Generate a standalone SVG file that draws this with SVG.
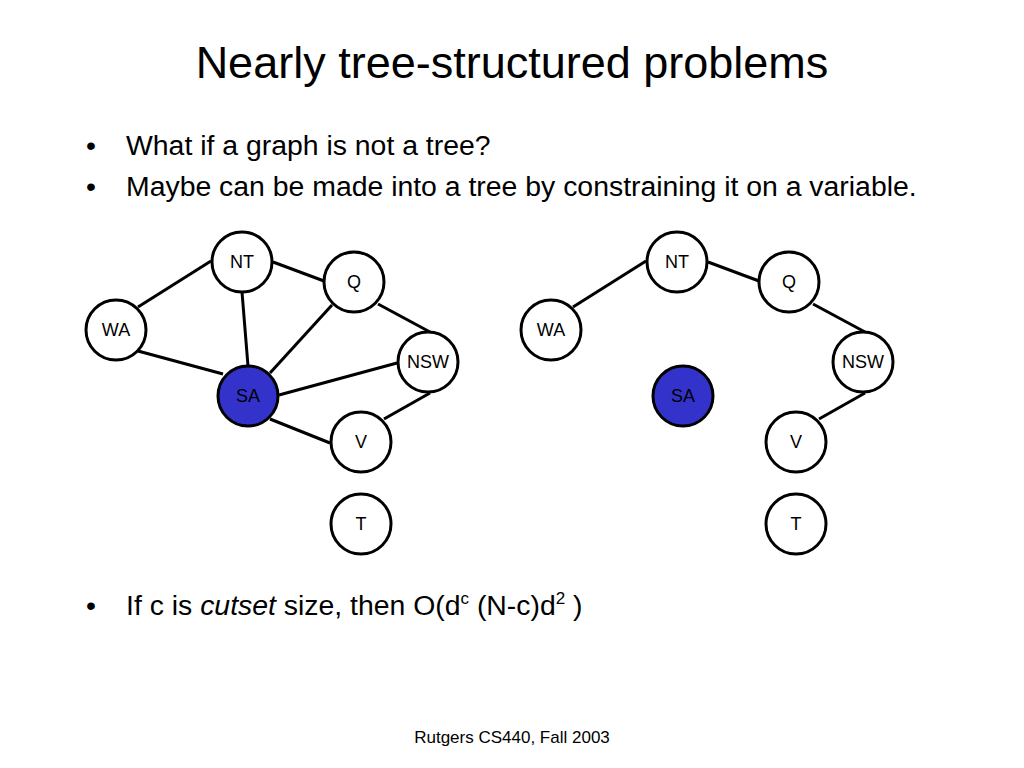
<svg xmlns="http://www.w3.org/2000/svg" width="1024" height="768" viewBox="0 0 1024 768">
<style>
text{font-family:"Liberation Sans",Arial,sans-serif;fill:#000}
.title{font-size:45px}
.bul{font-size:28.4px}
.lbl{font-size:18px;text-anchor:middle}
.foot{font-size:17px;text-anchor:middle}
.n{fill:#fff;stroke:#000;stroke-width:3}
.sel{fill:#3333CC;stroke:#000;stroke-width:3}
.e line{stroke:#000;stroke-width:3}
</style>
<rect width="1024" height="768" fill="#fff"/>
<text class="title" x="512" y="78" text-anchor="middle">Nearly tree-structured problems</text>
<text class="bul" x="86" y="155">•</text>
<text class="bul" x="126" y="155">What if a graph is not a tree?</text>
<text class="bul" x="86" y="196">•</text>
<text class="bul" x="126" y="196">Maybe can be made into a tree by constraining it on a variable.</text>
<text class="bul" x="86" y="615">•</text>
<text class="bul" x="126" y="615">If c is <tspan font-style="italic">cutset</tspan> size, then O(d<tspan font-size="17" dy="-11">c</tspan><tspan dy="11"> (N-c)d</tspan><tspan font-size="17" dy="-11">2</tspan><tspan dy="11"> )</tspan></text>
<g id="connectors" class="e">
<line x1="138" y1="307" x2="211" y2="261"/>
<line x1="273" y1="262" x2="324" y2="281"/>
<line x1="242" y1="292" x2="248" y2="366"/>
<line x1="138" y1="351" x2="223" y2="374"/>
<line x1="332" y1="305" x2="270" y2="373"/>
<line x1="378" y1="304" x2="430" y2="332"/>
<line x1="279" y1="395" x2="397" y2="363"/>
<line x1="430" y1="393" x2="384" y2="419"/>
<line x1="270" y1="419" x2="330" y2="443"/>
<line x1="573" y1="307" x2="646" y2="261"/>
<line x1="708" y1="262" x2="759" y2="281"/>
<line x1="813" y1="304" x2="865" y2="332"/>
<line x1="865" y1="393" x2="819" y2="419"/>
</g>
<g id="L-NT"><circle class="n" cx="242" cy="262" r="30"/><text class="lbl" x="242" y="268">NT</text></g>
<g id="L-Q"><circle class="n" cx="354" cy="282" r="30"/><text class="lbl" x="354" y="288">Q</text></g>
<g id="L-WA"><circle class="n" cx="116" cy="330" r="30"/><text class="lbl" x="116" y="336">WA</text></g>
<g id="L-NSW"><circle class="n" cx="428" cy="362" r="30"/><text class="lbl" x="428" y="368">NSW</text></g>
<g id="L-SA"><circle class="sel" cx="248" cy="396" r="30"/><text class="lbl" x="248" y="402">SA</text></g>
<g id="L-V"><circle class="n" cx="361" cy="442" r="30"/><text class="lbl" x="361" y="448">V</text></g>
<g id="L-T"><circle class="n" cx="361" cy="524" r="30"/><text class="lbl" x="361" y="530">T</text></g>
<g id="R-NT"><circle class="n" cx="677" cy="262" r="30"/><text class="lbl" x="677" y="268">NT</text></g>
<g id="R-Q"><circle class="n" cx="789" cy="282" r="30"/><text class="lbl" x="789" y="288">Q</text></g>
<g id="R-WA"><circle class="n" cx="551" cy="330" r="30"/><text class="lbl" x="551" y="336">WA</text></g>
<g id="R-NSW"><circle class="n" cx="863" cy="362" r="30"/><text class="lbl" x="863" y="368">NSW</text></g>
<g id="R-SA"><circle class="sel" cx="683" cy="396" r="30"/><text class="lbl" x="683" y="402">SA</text></g>
<g id="R-V"><circle class="n" cx="796" cy="442" r="30"/><text class="lbl" x="796" y="448">V</text></g>
<g id="R-T"><circle class="n" cx="796" cy="524" r="30"/><text class="lbl" x="796" y="530">T</text></g>
<text class="foot" x="512" y="743">Rutgers CS440, Fall 2003</text>
</svg>
